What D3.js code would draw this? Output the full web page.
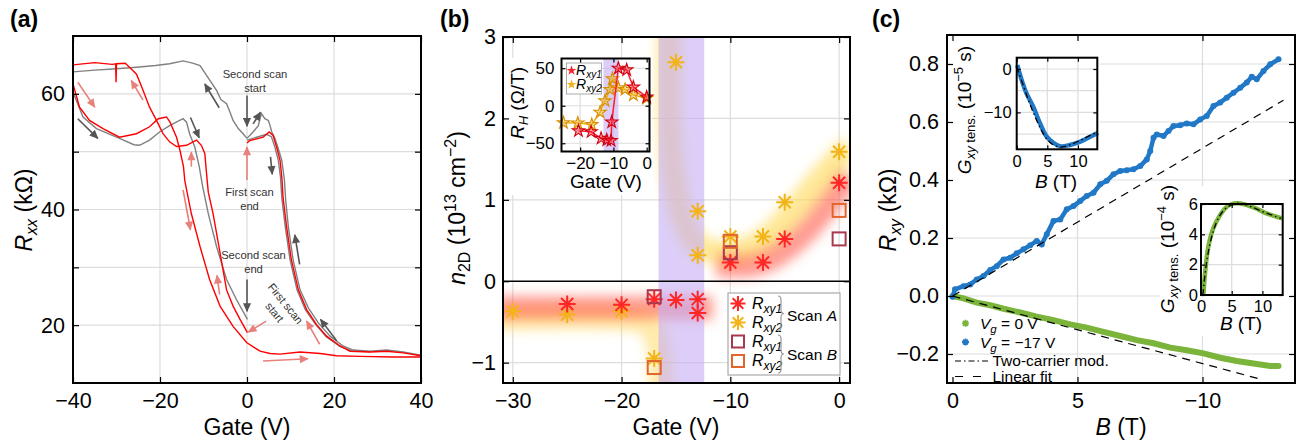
<!DOCTYPE html>
<html>
<head>
<meta charset="utf-8">
<script src="https://cdn.jsdelivr.net/npm/d3@7"></script>
<style>
  body { margin: 0; background: #fff; }
  svg { font-family: "Liberation Sans", Arial, Helvetica, sans-serif; }
</style>
</head>
<body>
<svg id="fig" width="1304" height="444"></svg>
<script>
// ---------- data ----------
// (a) Rxx vs gate, [gate V, kOhm]
const aRedTop = [[-40,65],[-35,65.4],[-31,65.1],[-30.2,65.2],[-30.1,62],[-30,65.2],[-28,65.3],[-26.6,64.3],[-25.4,63.4],[-23.9,60.6],[-22.4,57.7],[-20.8,55.4],[-19.3,53.1],[-17.8,51.7],[-16.2,50.9],[-13.9,51.1],[-11.6,52.0],[-10.5,51.1],[-9.7,49.7],[-9.3,46.2],[-8.9,43],[-7.8,39.3],[-6.2,32.5],[-4.7,26.1],[-3.2,23.3],[-1.6,21],[0.1,18.7]];
const aRedLow = [[-40,61.7],[-38.5,57.7],[-36.2,55.4],[-33.1,54],[-29.3,52.5],[-25.4,53.1],[-22.4,54.3],[-20.4,55.7],[-18.5,56],[-17.7,55.1],[-16.2,52.5],[-15.4,50.2],[-14.6,47.4],[-14.3,45],[-12.8,39.3],[-10.8,33.6],[-8.6,27.9],[-6.2,23.3],[-3.2,19.8],[-0.1,17],[3,15.5],[5.3,15.1],[7.6,15.0],[12.2,15.35],[16.8,15.1],[20.6,14.7],[26,14.6],[33.6,14.5],[40,14.5]];
const aRedRight = [[0,51.5],[0.6,51.9],[2.2,52.2],[3.7,52.5],[5.1,53.4],[6,52.8],[6.8,50.8],[7.6,48.5],[8,45.6],[8.3,42],[9.1,37],[10.2,31.3],[11.8,26.1],[13.7,22.7],[16,20.1],[18.3,18.1],[21.4,16.4],[23.7,15.5],[28.3,15.35],[32.1,15.5],[35.9,15.2],[40,14.7]];
const aGrayTop = [[-40,63.8],[-35,64.1],[-30.8,64.3],[-25.4,64.6],[-21,64.9],[-17.8,65.2],[-14.7,65.7],[-12.5,65.3],[-10.8,64.9],[-9.3,63.2],[-7,60.6],[-6,59],[-4.7,58.3],[-3.9,56.8],[-3.2,55.4],[-2,54],[-0.9,53.1],[0,52.3]];
const aGrayRight = [[0,52.3],[1.4,53.4],[2.6,54.5],[3.3,56.6],[4.1,55.7],[4.9,55.4],[5.3,54.5],[5.7,53.4],[6.4,52.3],[7.2,50.5],[8,48.5],[8.6,45.1],[8.9,41.6],[9.5,37],[10.6,31.3],[12.2,26.1],[14.1,23],[16.4,20.4],[19.1,18.1],[22.1,16.4],[24.4,15.7],[28.3,15.5],[32.1,15.7],[35.9,15.35],[40,14.8]];
const aGrayInner = [[0,52.0],[2.2,52.5],[4.5,53.0],[5.6,52.6],[6.4,50.8],[7.2,48.5],[7.7,45.6],[8.0,42],[8.8,37],[9.9,31.3],[11.5,26.1],[13.4,22.7],[15.8,20.1],[18.2,18.0],[21.4,16.3],[24,15.6],[28.3,15.4]];
const aGrayLow = [[-40,60.3],[-37.7,56],[-34.6,54],[-29.3,52.3],[-26,51.2],[-24.7,51.1],[-22.4,52],[-20.1,53.4],[-17.8,54.5],[-14.7,55.7],[-13.9,55.1],[-13.2,53.1],[-12,50.8],[-11,47.5],[-10.2,44],[-8.9,39.3],[-7,33.6],[-4.7,27.9],[-2.4,24.4],[0.1,21]];
// arrows [gate1, R1, gate2, R2]
const aArrowsRed = [[-38.9,62,-35,57.7],[-23.9,58.9,-26.6,62.3],[-12.8,47.4,-12.8,49.9],[-14.7,43.4,-13,36.5],[-6.3,25.3,-6.9,28.6],[0,45.1,0,50.8],[4.4,20.7,0.3,18.8],[3.7,13.8,14,14.2],[16.7,16.7,13.7,20.7]];
const aArrowsGray = [[-38.9,55.7,-34.3,52.3],[-6.4,57.6,-9.7,61.7],[0,59.7,0,54.4],[1.4,54.8,3.1,56.8],[-13,55.9,-11,52.4],[5.4,49.1,5.8,46.1],[12.1,30.5,11,35.6],[0,27.9,0,22.4],[20.6,17.3,16.9,21]];

// (b) n2D vs gate, [gate V, 1e13 cm^-2]
const bScanA1 = [[-25,-0.28],[-20,-0.29],[-17,-0.22],[-15,-0.23],[-13,-0.22],[-13,-0.39],[-10,0.23],[-7,0.23],[-5,0.52],[0,1.21]];
const bScanA2 = [[-30,-0.37],[-25,-0.41],[-20,-0.37],[-17,-0.95],[-15,2.69],[-13,0.86],[-13,0.32],[-10,0.55],[-7,0.55],[-5,0.97],[0,1.59]];
const bScanB1 = [[-17,-0.19],[-10,0.35],[0,0.52]];
const bScanB2 = [[-17,-1.06],[-10,0.49],[0,0.87]];
const bBand = [-16.6, -12.4];
const bGlowRedNeg = [[-31.5,-0.33],[-22,-0.33],[-11.6,-0.33]];
const bGlowRedPos = [[-11.3,0.2],[-8,0.2],[-6,0.3],[-3,0.62],[0,1.12],[1,1.3]];
const bGlowYel = [[-15.6,3.3],[-15.6,2.0],[-15.2,1.3],[-14.3,0.75],[-12.8,0.42],[-10,0.36],[-7,0.5],[-4,0.9],[-1.5,1.3],[1,1.65]];
const bGlowYelNeg = [[-31.5,-0.46],[-20,-0.46],[-17.6,-0.52],[-16.6,-0.8],[-16.4,-1.4]];
// (b) inset: RH vs gate, [gate V, Ohm/T]
const bInXy1 = [[-20.5,-33.5],[-16.7,-34.8],[-13.7,-43.5],[-12,-45.7],[-10.7,-46.5],[-10.5,-21.7],[-8.5,50],[-6,47.8],[-4,24.8],[0,11.7]];
const bInXy2 = [[-25,-22.6],[-20.7,-23],[-16.5,-25.2],[-14,-8.7],[-12.5,6.5],[-11,21.7],[-10.3,36],[-8.5,23.9],[-6.5,21.7],[-4,14.3],[0,10]];
const bInBand = [-13.0, -8.5];

// (c) Rxy vs B, [T, kOhm]
const cBlue = [[0,-0.003],[0.1,0.023],[0.44,0.034],[0.71,0.04],[0.97,0.057],[1.24,0.069],[1.51,0.09],[1.77,0.103],[2.04,0.126],[2.31,0.132],[2.57,0.147],[2.84,0.161],[3.11,0.175],[3.37,0.19],[3.57,0.178],[3.77,0.213],[4.04,0.259],[4.31,0.264],[4.57,0.299],[4.84,0.31],[5.11,0.328],[5.37,0.345],[5.64,0.356],[5.91,0.385],[6.17,0.397],[6.44,0.42],[6.71,0.431],[6.97,0.434],[7.24,0.437],[7.51,0.448],[7.77,0.471],[7.91,0.5],[8.04,0.546],[8.17,0.557],[8.44,0.552],[8.64,0.569],[8.84,0.586],[9.11,0.589],[9.37,0.595],[9.64,0.592],[9.91,0.609],[10.17,0.621],[10.44,0.655],[10.71,0.667],[10.97,0.684],[11.24,0.701],[11.51,0.718],[11.77,0.736],[11.97,0.756],[12.17,0.747],[12.44,0.776],[12.71,0.799],[13.04,0.816]];
const cGreen = [[0,0],[0.44,-0.008],[0.97,-0.023],[1.51,-0.032],[2.04,-0.044],[2.71,-0.057],[3.37,-0.071],[4.04,-0.083],[4.71,-0.098],[5.37,-0.109],[6.04,-0.124],[6.71,-0.138],[7.37,-0.152],[8.04,-0.163],[8.71,-0.178],[9.37,-0.187],[10.04,-0.198],[10.71,-0.213],[11.37,-0.224],[12.04,-0.233],[12.71,-0.241],[13.04,-0.241]];
const cBlueFit = [[0,0],[13.24,0.675]];
const cGreenFit = [[0,0],[12.24,-0.285]];
// (c) insets: Gxy tensor vs B
const c1Data = [[0.1,0.9],[0.8,-2.5],[1.6,-5.6],[2.7,-8.7],[3.8,-12.5],[4.9,-15.6],[6,-17],[7.07,-17.8],[8.7,-17.5],[10.3,-16.8],[12,-15.6],[13.3,-14.7]];
const c1Model = [[0,0.5],[1,-3.5],[2,-7.5],[3,-11],[4,-14],[5,-16.3],[6,-17.5],[7,-18],[8,-17.8],[9,-17.3],[10,-16.7],[11,-16],[12,-15.3],[13,-14.6]];
const c2Data = [[0.4,0],[0.65,1.4],[1.2,3.2],[2,4.4],[3,5.2],[4,5.75],[5,6.0],[6,6.05],[7,5.98],[8,5.85],[9,5.7],[10,5.5],[11,5.33],[12,5.2],[13.2,5.05]];
const c2Model = [[0.3,0],[1,2.4],[2,4.2],[3,5.2],[4,5.7],[5,5.95],[6,6.05],[7,6.0],[8,5.85],[9,5.68],[10,5.5],[11,5.35],[12,5.2],[13,5.05]];

// ---------- helpers ----------
const FONT = '"Liberation Sans", Arial, Helvetica, sans-serif';
const svg = d3.select('#fig');
const defs = svg.append('defs');
const num = d3.format('');

function grid(g, x, y, xs, ys) {
  const [x0, x1] = x.range(), [yb, yt] = y.range();
  g.append('g').selectAll('line').data(xs).join('line')
    .attr('x1', d => x(d)).attr('x2', d => x(d)).attr('y1', yt).attr('y2', yb)
    .attr('stroke', '#dddddd').attr('stroke-width', 1.2);
  g.append('g').selectAll('line').data(ys).join('line')
    .attr('x1', x0).attr('x2', x1).attr('y1', d => y(d)).attr('y2', d => y(d))
    .attr('stroke', '#dddddd').attr('stroke-width', 1.2);
}

function frame(g, x, y, o) {
  const [x0, x1] = x.range(), [yb, yt] = y.range();
  const tl = o.tl || 6;
  const ax = [
    g.append('g').attr('transform', `translate(0,${yb})`)
      .call(d3.axisBottom(x).tickValues(o.xt).tickSize(-tl).tickPadding(o.xpad).tickFormat(o.xf || num)),
    g.append('g').attr('transform', `translate(0,${yt})`)
      .call(d3.axisTop(x).tickValues(o.xt).tickSize(-tl).tickFormat('')),
    g.append('g').attr('transform', `translate(${x0},0)`)
      .call(d3.axisLeft(y).tickValues(o.yt).tickSize(-tl).tickPadding(o.ypad).tickFormat(o.yf || num)),
    g.append('g').attr('transform', `translate(${x1},0)`)
      .call(d3.axisRight(y).tickValues(o.yt).tickSize(-tl).tickFormat(''))
  ];
  ax.forEach(a => {
    a.attr('font-family', null).attr('font-size', null);
    a.select('.domain').remove();
    a.selectAll('line').attr('stroke', '#000').attr('stroke-width', 1.2);
    a.selectAll('text').attr('font-size', o.fs).attr('font-family', FONT).attr('fill', '#000');
  });
  g.append('rect').attr('x', x0).attr('y', yt).attr('width', x1 - x0).attr('height', yb - yt)
    .attr('fill', 'none').attr('stroke', '#000').attr('stroke-width', o.sw || 2);
}

function clip(id, x, y) {
  const [x0, x1] = x.range(), [yb, yt] = y.range();
  defs.append('clipPath').attr('id', id).append('rect')
    .attr('x', x0).attr('y', yt).attr('width', x1 - x0).attr('height', yb - yt);
  return `url(#${id})`;
}

// rich text: parts = [[text, size, italic, dy]]
function rich(g, tx, ty, rot, anchor, parts) {
  const t = g.append('text').attr('transform', `translate(${tx},${ty}) rotate(${rot})`)
    .attr('text-anchor', anchor).attr('fill', '#000');
  parts.forEach(p => {
    t.append('tspan').text(p[0]).attr('font-size', p[1])
      .attr('font-style', p[2] ? 'italic' : 'normal').attr('dy', p[3] || 0);
  });
  return t;
}

function asterisk(r) {
  const p = d3.path();
  for (let k = 0; k < 4; k++) {
    const a = k * Math.PI / 4;
    p.moveTo(r * Math.cos(a), r * Math.sin(a));
    p.lineTo(-r * Math.cos(a), -r * Math.sin(a));
  }
  return p.toString();
}

function marker(id, color) {
  defs.append('marker').attr('id', id).attr('viewBox', '0 0 10 10')
    .attr('refX', 9).attr('refY', 5).attr('markerWidth', 10).attr('markerHeight', 9)
    .attr('markerUnits', 'userSpaceOnUse').attr('orient', 'auto')
    .append('path').attr('d', 'M0,0.5 L10,5 L0,9.5 Z').attr('fill', color);
}
marker('arRed', '#e8807c');
marker('arGray', '#555555');

defs.append('filter').attr('id', 'glow').attr('x', '-30%').attr('y', '-30%').attr('width', '160%').attr('height', '160%')
  .append('feGaussianBlur').attr('stdDeviation', 6);

function panelTitle(x, y, s) {
  svg.append('text').attr('x', x).attr('y', y).attr('font-size', 23).attr('font-weight', 'bold').text(s);
}

// ---------- panel (a) ----------
{
  const g = svg.append('g');
  const x = d3.scaleLinear().domain([-40, 40]).range([73, 421]);
  const y = d3.scaleLinear().domain([10, 70]).range([383, 36]);
  grid(g, x, y, [-20, 0, 20], [20, 30, 40, 50, 60]);
  const cp = clip('clipA', x, y);
  const ln = d3.line().x(d => x(d[0])).y(d => y(d[1]));
  const data = g.append('g').attr('clip-path', cp);
  [aGrayTop, aGrayLow, aGrayInner, aGrayRight].forEach(s =>
    data.append('path').attr('d', ln(s)).attr('fill', 'none').attr('stroke', '#808080').attr('stroke-width', 1.4));
  [aRedTop, aRedLow, aRedRight].forEach(s =>
    data.append('path').attr('d', ln(s)).attr('fill', 'none').attr('stroke', '#ff0000').attr('stroke-width', 1.4));

  g.append('g').selectAll('line').data(aArrowsRed).join('line')
    .attr('x1', d => x(d[0])).attr('y1', d => y(d[1])).attr('x2', d => x(d[2])).attr('y2', d => y(d[3]))
    .attr('stroke', '#e8807c').attr('stroke-width', 1.6).attr('marker-end', 'url(#arRed)');
  g.append('g').selectAll('line').data(aArrowsGray).join('line')
    .attr('x1', d => x(d[0])).attr('y1', d => y(d[1])).attr('x2', d => x(d[2])).attr('y2', d => y(d[3]))
    .attr('stroke', '#555555').attr('stroke-width', 1.6).attr('marker-end', 'url(#arGray)');

  const note = (cx, cy, lines, rot) => {
    const t = g.append('text').attr('transform', `translate(${cx},${cy}) rotate(${rot || 0})`)
      .attr('text-anchor', 'middle').attr('font-size', 11.2).attr('fill', '#333');
    lines.forEach((s, i) => t.append('tspan').attr('x', 0).attr('y', i * 14).text(s));
  };
  note(255, 78, ['Second scan', 'start']);
  note(249.5, 195.5, ['First scan', 'end']);
  note(253.5, 259, ['Second scan', 'end']);
  note(282.5, 306, ['First scan', 'start'], 51);

  frame(g, x, y, { xt: [-40, -20, 0, 20, 40], yt: [20, 30, 40, 50, 60], fs: 21.5, xpad: 10, ypad: 8,
    yf: d => d % 20 === 0 ? num(d) : '' });
  rich(g, 32, 210, -90, 'middle', [['R', 23, true], ['xx', 16, true, 5], [' (kΩ)', 23, false, -5]]);
  rich(g, 247, 435, 0, 'middle', [['Gate (V)', 23]]);
  panelTitle(10, 27, '(a)');
}

// ---------- panel (b) ----------
{
  const g = svg.append('g');
  const x = d3.scaleLinear().domain([-30.9, 1.0]).range([503, 850]);
  const y = d3.scaleLinear().domain([-1.25, 3]).range([383, 37]);
  grid(g, x, y, [-30, -20, -10, 0], [-1, 1, 2]);
  const cp = clip('clipB', x, y);
  const ln = d3.line().curve(d3.curveCatmullRom).x(d => x(d[0])).y(d => y(d[1]));
  const glow = g.append('g').attr('clip-path', cp).append('g').attr('filter', 'url(#glow)');
  [[bGlowYelNeg, '#ffd860', 0.55], [bGlowRedNeg, '#ff4a3a', 0.55], [bGlowYel, '#ffdc60', 0.65], [bGlowRedPos, '#ff4a3a', 0.55]]
    .forEach(([s, c, op]) => glow.append('path').attr('d', ln(s)).attr('fill', 'none')
      .attr('stroke', c).attr('stroke-opacity', op).attr('stroke-width', 24).attr('stroke-linecap', 'butt'));
  g.append('rect').attr('x', x(bBand[0])).attr('width', x(bBand[1]) - x(bBand[0]))
    .attr('y', y(3)).attr('height', y(-1.25) - y(3)).attr('fill', '#c4aef5').attr('fill-opacity', 0.6);
  g.append('line').attr('x1', 503).attr('x2', 850).attr('y1', y(0)).attr('y2', y(0))
    .attr('stroke', '#000').attr('stroke-width', 1.6);

  // inset background
  g.append('rect').attr('x', 505).attr('y', 58).attr('width', 147).attr('height', 137).attr('fill', '#fff');

  const pts = g.append('g').attr('clip-path', cp);
  const ast = asterisk(8.5);
  pts.selectAll('path.y2').data(bScanA2).join('path').attr('class', 'y2')
    .attr('transform', d => `translate(${x(d[0])},${y(d[1])})`).attr('d', ast)
    .attr('stroke', '#f2b418').attr('stroke-width', 2).attr('fill', 'none');
  pts.selectAll('path.y1').data(bScanA1).join('path').attr('class', 'y1')
    .attr('transform', d => `translate(${x(d[0])},${y(d[1])})`).attr('d', ast)
    .attr('stroke', '#ff2626').attr('stroke-width', 2).attr('fill', 'none');
  [[bScanB1, '#a8384e'], [bScanB2, '#e2662c']].forEach(([s, c]) =>
    pts.append('g').selectAll('rect').data(s).join('rect')
      .attr('x', d => x(d[0]) - 6.5).attr('y', d => y(d[1]) - 6.5).attr('width', 13).attr('height', 13)
      .attr('fill', 'none').attr('stroke', c).attr('stroke-width', 2));

  frame(g, x, y, { xt: [-30, -20, -10, 0], yt: [-1, 0, 1, 2, 3], fs: 21.5, xpad: 10, ypad: 7 });
  rich(g, 465, 208, -90, 'middle', [['n', 23, true], ['2D', 16, false, 5], [' (10', 23, false, -5],
    ['13', 16, false, -9], [' cm', 23, false, 9], ['−2', 16, false, -9], [')', 23, false, 9]]);
  rich(g, 676, 435, 0, 'middle', [['Gate (V)', 23]]);

  // legend
  const lg = g.append('g');
  lg.append('rect').attr('x', 728).attr('y', 293).attr('width', 112).attr('height', 82)
    .attr('fill', '#fff').attr('stroke', '#aaaaaa').attr('stroke-width', 1.2);
  const items = [['ast', '#ff2626', '1', 303.5], ['ast', '#f2b418', '2', 322.5], ['sq', '#a8384e', '1', 341.5], ['sq', '#e2662c', '2', 361]];
  items.forEach(([k, c, n, cy]) => {
    if (k === 'ast') lg.append('path').attr('transform', `translate(738,${cy})`).attr('d', asterisk(7.5))
      .attr('stroke', c).attr('stroke-width', 2).attr('fill', 'none');
    else lg.append('rect').attr('x', 732).attr('y', cy - 6).attr('width', 12).attr('height', 12)
      .attr('fill', 'none').attr('stroke', c).attr('stroke-width', 2);
    rich(lg, 752, cy + 5, 0, 'start', [['R', 16, true], ['xy' + n, 12, true, 4]]);
  });
  const brace = (bx, y1, y2) => {
    const p = d3.path(), ym = (y1 + y2) / 2, w = 6;
    p.moveTo(bx, y1);
    p.quadraticCurveTo(bx + w / 2, y1, bx + w / 2, y1 + 4);
    p.lineTo(bx + w / 2, ym - 4);
    p.quadraticCurveTo(bx + w / 2, ym, bx + w, ym);
    p.quadraticCurveTo(bx + w / 2, ym, bx + w / 2, ym + 4);
    p.lineTo(bx + w / 2, y2 - 4);
    p.quadraticCurveTo(bx + w / 2, y2, bx, y2);
    lg.append('path').attr('d', p.toString()).attr('fill', 'none').attr('stroke', '#999').attr('stroke-width', 1.2);
  };
  brace(778, 296, 331);
  brace(778, 335, 373);
  rich(lg, 787, 321, 0, 'start', [['Scan ', 15.5], ['A', 15.5, true]]);
  rich(lg, 787, 360, 0, 'start', [['Scan ', 15.5], ['B', 15.5, true]]);

  // inset
  const ig = g.append('g');
  const ix = d3.scaleLinear().domain([-25.6, 0.85]).range([561.5, 649.5]);
  const iy = d3.scaleLinear().domain([-61, 63]).range([151.5, 58.5]);
  grid(ig, ix, iy, [-20, -10], [-50, 0, 50]);
  ig.append('rect').attr('x', ix(bInBand[0])).attr('width', ix(bInBand[1]) - ix(bInBand[0]))
    .attr('y', 58.5).attr('height', 93).attr('fill', '#c4aef5').attr('fill-opacity', 0.6);
  const il = d3.line().x(d => ix(d[0])).y(d => iy(d[1]));
  const star = d3.symbol(d3.symbolStar, 48)();
  [[bInXy2, '#efb21c', '#d69000'], [bInXy1, '#ff1e2e', '#d00010']].forEach(([s, c, e]) => {
    ig.append('path').attr('d', il(s)).attr('fill', 'none').attr('stroke', c).attr('stroke-width', 1.5);
    ig.append('g').selectAll('path').data(s).join('path')
      .attr('transform', d => `translate(${ix(d[0])},${iy(d[1])})`).attr('d', star)
      .attr('fill', c).attr('fill-opacity', 0.45).attr('stroke', e).attr('stroke-width', 1.1);
  });
  // inset legend
  ig.append('rect').attr('x', 566.5).attr('y', 63).attr('width', 35).attr('height', 31)
    .attr('fill', '#fff').attr('fill-opacity', 0.85).attr('stroke', '#aaa').attr('stroke-width', 1);
  [['#ff1e2e', '1', 70.5], ['#efb21c', '2', 84.5]].forEach(([c, n, cy]) => {
    ig.append('path').attr('transform', `translate(571.5,${cy})`).attr('d', d3.symbol(d3.symbolStar, 30)()).attr('fill', c);
    rich(ig, 576, cy + 4.5, 0, 'start', [['R', 14, true], ['xy' + n, 10, true, 3]]);
  });
  frame(ig, ix, iy, { xt: [-20, -10, 0], yt: [-50, 0, 50], fs: 17, xpad: 5, ypad: 7, tl: 4 });
  rich(ig, 524, 103, -90, 'middle', [['R', 19, true], ['H', 13, true, 4], [' (Ω/T)', 19, false, -4]]);
  rich(ig, 606, 188, 0, 'middle', [['Gate (V)', 19]]);
  panelTitle(440, 27, '(b)');
}

// ---------- panel (c) ----------
{
  const g = svg.append('g');
  const x = d3.scaleLinear().domain([-0.22, 13.7]).range([947, 1295]);
  const y = d3.scaleLinear().domain([-0.3, 0.9]).range([383, 35]);
  grid(g, x, y, [5, 10], [-0.2, 0, 0.2, 0.4, 0.6, 0.8]);
  g.append('rect').attr('x', 950).attr('y', 38).attr('width', 150).attr('height', 157).attr('fill', '#fff');
  g.append('rect').attr('x', 1160).attr('y', 186).attr('width', 132).attr('height', 150).attr('fill', '#fff');
  const cp = clip('clipC', x, y);
  const ln = d3.line().x(d => x(d[0])).y(d => y(d[1]));
  const dg = g.append('g').attr('clip-path', cp);
  dg.append('path').attr('d', ln(cGreen)).attr('fill', 'none').attr('stroke', '#7ab43a')
    .attr('stroke-width', 6).attr('stroke-linecap', 'round');
  dg.append('path').attr('d', ln(cBlue)).attr('fill', 'none').attr('stroke', '#2178c6')
    .attr('stroke-width', 4.5).attr('stroke-linejoin', 'round').attr('stroke-linecap', 'round');
  dg.append('g').selectAll('circle').data(cBlue).join('circle')
    .attr('cx', d => x(d[0])).attr('cy', d => y(d[1])).attr('r', 3).attr('fill', '#2178c6');
  [cBlueFit, cGreenFit].forEach(s => dg.append('path').attr('d', ln(s)).attr('fill', 'none')
    .attr('stroke', '#000').attr('stroke-width', 1.2).attr('stroke-dasharray', '8,6'));

  frame(g, x, y, { xt: [0, 5, 10], yt: [-0.2, 0, 0.2, 0.4, 0.6, 0.8], fs: 21.5, xpad: 10, ypad: 8,
    xf: d => d === 10 ? '−10' : num(d), yf: d3.format('.1f') });
  rich(g, 896, 210, -90, 'middle', [['R', 23, true], ['xy', 16, true, 5], [' (kΩ)', 23, false, -5]]);
  rich(g, 1121, 435, 0, 'middle', [['B', 23, true], [' (T)', 23]]);

  // legend
  const lg = g.append('g');
  const smallAst = asterisk(3.5);
  [['#7ab43a', '0 V', 323.3], ['#2178c6', '−17 V', 342]].forEach(([c, v, cy]) => {
    lg.append('path').attr('transform', `translate(965.5,${cy})`).attr('d', smallAst)
      .attr('stroke', c).attr('stroke-width', 1.8);
    rich(lg, 980, cy + 6, 0, 'start', [['V', 15.5, true], ['g', 11.5, true, 4], [' = ' + v, 15.5, false, -4]]);
  });
  lg.append('line').attr('x1', 955).attr('x2', 988).attr('y1', 361).attr('y2', 361)
    .attr('stroke', '#000').attr('stroke-width', 1.2).attr('stroke-dasharray', '6,3,1.5,3');
  lg.append('line').attr('x1', 955).attr('x2', 988).attr('y1', 376.5).attr('y2', 376.5)
    .attr('stroke', '#000').attr('stroke-width', 1.2).attr('stroke-dasharray', '8,10');
  rich(lg, 992.5, 366, 0, 'start', [['Two-carrier mod.', 15.5]]);
  rich(lg, 992.5, 381.5, 0, 'start', [['Linear fit', 15.5]]);

  // inset 1
  const i1 = g.append('g');
  const x1 = d3.scaleLinear().domain([0, 13.17]).range([1016.7, 1097.3]);
  const y1 = d3.scaleLinear().domain([-18.5, 2.6]).range([149.3, 57.7]);
  grid(i1, x1, y1, [5, 10], [-15, -10, -5, 0]);
  const l1 = d3.line().curve(d3.curveCatmullRom).x(d => x1(d[0])).y(d => y1(d[1]));
  i1.append('path').attr('d', l1(c1Data)).attr('fill', 'none').attr('stroke', '#2178c6').attr('stroke-width', 4.5);
  i1.append('path').attr('d', l1(c1Model)).attr('fill', 'none').attr('stroke', '#000').attr('stroke-width', 1.3)
    .attr('stroke-dasharray', '6,3,1.5,3');
  frame(i1, x1, y1, { xt: [0, 5, 10], yt: [-10, 0], fs: 16.5, xpad: 6, ypad: 5, tl: 4 });
  rich(i1, 971, 110, -90, 'middle', [['G', 19, true], ['xy', 13, true, 4], [' tens.', 13, false], [' (10', 19, false, -4],
    ['−5', 13, false, -8], [' s)', 19, false, 8]]);
  rich(i1, 1056, 188, 0, 'middle', [['B', 19, true], [' (T)', 19]]);

  // inset 2
  const i2 = g.append('g');
  const x2 = d3.scaleLinear().domain([0, 13.3]).range([1201, 1282.7]);
  const y2 = d3.scaleLinear().domain([0, 6]).range([295, 204]);
  grid(i2, x2, y2, [5, 10], [2, 4]);
  const l2 = d3.line().curve(d3.curveCatmullRom).x(d => x2(d[0])).y(d => y2(d[1]));
  i2.append('path').attr('d', l2(c2Data)).attr('fill', 'none').attr('stroke', '#7ab43a').attr('stroke-width', 4.5);
  i2.append('path').attr('d', l2(c2Model)).attr('fill', 'none').attr('stroke', '#000').attr('stroke-width', 1.3)
    .attr('stroke-dasharray', '6,3,1.5,3');
  frame(i2, x2, y2, { xt: [0, 5, 10], yt: [0, 2, 4, 6], fs: 16.5, xpad: 5, ypad: 3, tl: 4 });
  rich(i2, 1174, 249, -90, 'middle', [['G', 19, true], ['xy', 13, true, 4], [' tens.', 13, false], [' (10', 19, false, -4],
    ['−4', 13, false, -8], [' s)', 19, false, 8]]);
  rich(i2, 1241, 330, 0, 'middle', [['B', 19, true], [' (T)', 19]]);
  panelTitle(872, 27, '(c)');
}
</script>
</body>
</html>
